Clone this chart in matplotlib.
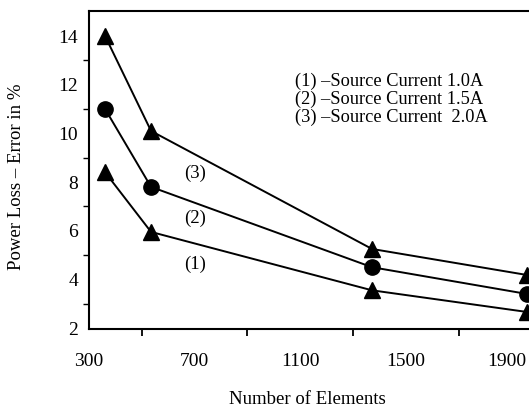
import matplotlib
matplotlib.use("Agg")
import matplotlib.pyplot as plt
from matplotlib.ticker import FixedLocator
from matplotlib.transforms import ScaledTranslation

plt.rcParams['font.family'] = ['Liberation Serif', 'DejaVu Serif']

elements = [361, 535, 1372, 1959]
series1 = [8.4, 5.95, 3.55, 2.66]   # Source Current 1.0A
series2 = [11.0, 7.8, 4.5, 3.4]     # Source Current 1.5A
series3 = [14.0, 10.1, 5.25, 4.18]  # Source Current 2.0A

curve_labels = ["(1)", "(2)", "(3)"]
curve_label_x = 700
curve_label_y = [4.6, 6.5, 8.35]
legend_lines = ["(1) \u2013Source Current 1.0A",
                "(2) \u2013Source Current 1.5A",
                "(3) \u2013Source Current  2.0A"]

x_labels = [300, 700, 1100, 1500, 1900]
x_marks = [500, 900, 1300, 1700]
y_labels = [2, 4, 6, 8, 10, 12, 14]
y_marks = [3, 5, 7, 9, 11, 13]

fig = plt.figure(figsize=(5.29, 4.09), dpi=100)
ax = fig.add_axes([89/529, 80/409, (535-89)/529, (329-11)/409])
ax.set_xlim(300, 300 + (535 - 89) / 0.264)
ax.set_ylim(1.96, 15.03)

ax.plot(elements, series1, color='black', lw=1.4, marker='^', ms=12, clip_on=False)
ax.plot(elements, series2, color='black', lw=1.4, marker='o', ms=11, clip_on=False)
ax.plot(elements, series3, color='black', lw=1.4, marker='^', ms=12, clip_on=False)

for lab, yv in zip(curve_labels, curve_label_y):
    ax.text(curve_label_x, yv, lab, ha='center', va='center', fontsize=13.5)

for i, line in enumerate(legend_lines):
    ax.text(1080, 12.15 - i * 0.74, line, ha='left', va='center', fontsize=13.2)

ax.xaxis.set_major_locator(FixedLocator(x_labels))
ax.xaxis.set_minor_locator(FixedLocator(x_marks))
ax.yaxis.set_major_locator(FixedLocator(y_labels))
ax.yaxis.set_minor_locator(FixedLocator(y_marks))
ax.tick_params(axis='x', which='major', length=0, pad=17, labelsize=14)
ax.tick_params(axis='x', which='minor', length=5, width=1.3, direction='out')
ax.tick_params(axis='y', which='major', length=0, pad=8, labelsize=14)
ax.tick_params(axis='y', which='minor', length=4, width=1.0, direction='out')

fig.canvas.draw()
last = ax.get_xticklabels()[-1]
last.set_transform(last.get_transform() + ScaledTranslation(-5/100, 0, fig.dpi_scale_trans))

for s in ['left', 'bottom', 'top']:
    ax.spines[s].set_linewidth(1.5)
ax.spines['right'].set_visible(False)

fig.text(307/529, 1 - 400/409, "Number of Elements", ha='center', va='center', fontsize=13.5)
fig.text(17/529, 1 - 177/409, "Power Loss \u2013 Error in %", ha='center', va='center',
         rotation=90, fontsize=13.5)

fig.savefig("out.png", dpi=100)
